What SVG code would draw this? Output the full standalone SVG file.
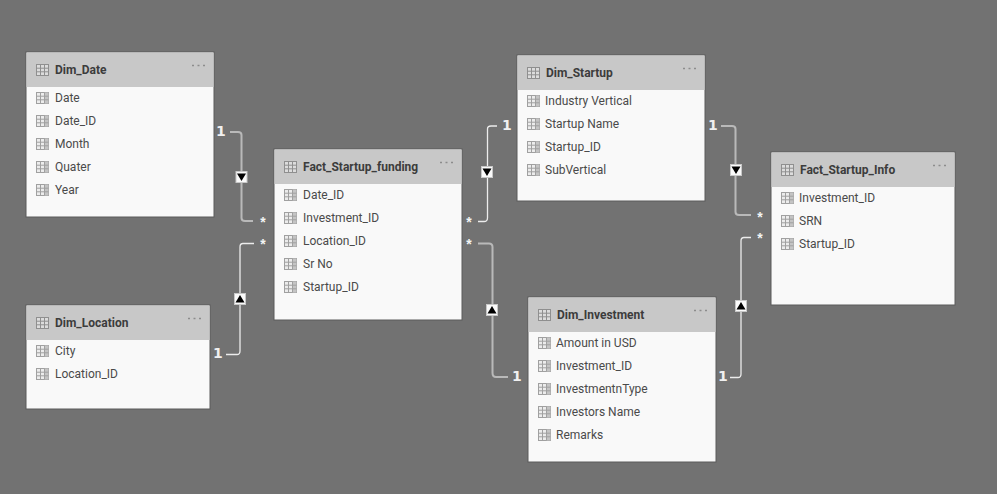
<svg xmlns="http://www.w3.org/2000/svg" width="997" height="494" viewBox="0 0 997 494">
<style>
text{font-family:Roboto,"Open Sans","Liberation Sans",sans-serif}
.body{fill:#f9f9f9;stroke:#5a5a5a;stroke-width:1}
.head{fill:#c8c8c8}
.title{font-size:12px;font-weight:700;fill:#3c3c3c}
.field{font-size:12px;fill:#4a4a4a}
.dots{fill:none;stroke:#8c8c8c;stroke-width:1.5;stroke-dasharray:2 3.5}
.wide{fill:none;stroke:#b9b9b9;stroke-width:2}
.thin{fill:none;stroke:#ececec;stroke-width:1.3}
.one{font-size:14px;font-weight:700;fill:#f0f0f0;font-family:"DejaVu Sans",sans-serif}
.star{font-size:14px;font-weight:700;fill:#f4f4f4;text-anchor:middle;font-family:"Liberation Sans",sans-serif}
.abox{fill:#fafafa;stroke:#c8c8c8;stroke-width:1}
</style>
<defs>
<g id="ticon"><rect width="12" height="11" fill="#dcdcdc" stroke="#8f8f8f"/><path d="M0 3.700H12M0 7.300H12M4 0V11M8 0V11" stroke="#8f8f8f" fill="none"/></g>
<g id="ficon"><rect width="12" height="11" fill="#ececec" stroke="#a0a0a0"/><rect x="8" y="0" width="4" height="11" fill="#c4c4c4"/><path d="M0 3.700H12M0 7.300H12M4 0V11M8 0V11" stroke="#a0a0a0" fill="none"/></g>
<g id="down"><rect x="-5.500" y="-5.500" width="11" height="11" class="abox"/><path d="M-4.500 -3.500H4.500L0 4Z" fill="#000"/></g>
<g id="up"><rect x="-5.500" y="-5.500" width="11" height="11" class="abox"/><path d="M-4.500 3.500H4.500L0 -4Z" fill="#000"/></g>
</defs>
<rect width="997" height="494" fill="#727272"/>
<g id="connectors">
<path class="wide" d="M230 132H238Q241.500 132 241.500 135V218Q241.500 221 245 221H253"/>
<path class="thin" d="M254 243.500H243Q240 243.500 240 247V351Q240 354.500 237 354.500H226"/>
<path class="thin" d="M478 221.500H484Q487.500 221.500 487.500 218V129Q487.500 126 491 126H497"/>
<path class="wide" d="M478 243.500H489Q492.500 243.500 492.500 247V373Q492.500 377 496 377H508"/>
<path class="wide" d="M721 126H732Q735.500 126 735.500 129V212Q735.500 215 739 215H751"/>
<path class="thin" d="M751 237.500H744Q741 237.500 741 241V374Q741 377.500 738 377.500H730"/>
<use href="#down" x="241.500" y="177"/>
<use href="#up" x="240" y="299"/>
<use href="#down" x="487" y="172"/>
<use href="#up" x="492" y="310"/>
<use href="#down" x="736" y="170"/>
<use href="#up" x="741" y="306"/>
<text class="one" x="216" y="136">1</text>
<text class="star" x="263" y="227">*</text>
<text class="star" x="263" y="249">*</text>
<text class="one" x="213" y="358">1</text>
<text class="star" x="469" y="227">*</text>
<text class="star" x="469" y="249">*</text>
<text class="one" x="502" y="130">1</text>
<text class="one" x="512" y="381">1</text>
<text class="one" x="708" y="130">1</text>
<text class="star" x="760" y="222">*</text>
<text class="star" x="760" y="243">*</text>
<text class="one" x="718" y="381">1</text>
</g>
<g id="dim_date">
<rect class="body" x="26" y="52" width="188" height="165"/><rect class="head" x="26.500" y="52.500" width="187" height="34.500"/>
<use href="#ticon" x="36.500" y="64.500"/><text class="title" x="55" y="74">Dim_Date</text><path class="dots" d="M192 65.500H207"/>
<use href="#ficon" x="36.500" y="92.500"/><text class="field" x="55" y="102">Date</text>
<use href="#ficon" x="36.500" y="115.500"/><text class="field" x="55" y="125">Date_ID</text>
<use href="#ficon" x="36.500" y="138.500"/><text class="field" x="55" y="148">Month</text>
<use href="#ficon" x="36.500" y="161.500"/><text class="field" x="55" y="171">Quater</text>
<use href="#ficon" x="36.500" y="184.500"/><text class="field" x="55" y="194">Year</text>
</g>
<g id="fact_startup_funding">
<rect class="body" x="274" y="149" width="188" height="171"/><rect class="head" x="274.500" y="149.500" width="187" height="34.500"/>
<use href="#ticon" x="284.500" y="161.500"/><text class="title" x="303" y="171">Fact_Startup_funding</text><path class="dots" d="M440 162.500H455"/>
<use href="#ficon" x="284.500" y="189.500"/><text class="field" x="303" y="199">Date_ID</text>
<use href="#ficon" x="284.500" y="212.500"/><text class="field" x="303" y="222">Investment_ID</text>
<use href="#ficon" x="284.500" y="235.500"/><text class="field" x="303" y="245">Location_ID</text>
<use href="#ficon" x="284.500" y="258.500"/><text class="field" x="303" y="268">Sr No</text>
<use href="#ficon" x="284.500" y="281.500"/><text class="field" x="303" y="291">Startup_ID</text>
</g>
<g id="dim_location">
<rect class="body" x="26" y="305" width="184" height="104"/><rect class="head" x="26.500" y="305.500" width="183" height="34.500"/>
<use href="#ticon" x="36.500" y="317.500"/><text class="title" x="55" y="327">Dim_Location</text><path class="dots" d="M188 318.500H203"/>
<use href="#ficon" x="36.500" y="345.500"/><text class="field" x="55" y="355">City</text>
<use href="#ficon" x="36.500" y="368.500"/><text class="field" x="55" y="378">Location_ID</text>
</g>
<g id="dim_startup">
<rect class="body" x="517" y="55" width="188" height="146"/><rect class="head" x="517.500" y="55.500" width="187" height="34.500"/>
<use href="#ticon" x="527.500" y="67.500"/><text class="title" x="546" y="77">Dim_Startup</text><path class="dots" d="M683 68.500H698"/>
<use href="#ficon" x="527.500" y="95.500"/><text class="field" x="545" y="105">Industry Vertical</text>
<use href="#ficon" x="527.500" y="118.500"/><text class="field" x="545" y="128">Startup Name</text>
<use href="#ficon" x="527.500" y="141.500"/><text class="field" x="545" y="151">Startup_ID</text>
<use href="#ficon" x="527.500" y="164.500"/><text class="field" x="545" y="174">SubVertical</text>
</g>
<g id="dim_investment">
<rect class="body" x="528" y="297" width="188" height="165"/><rect class="head" x="528.500" y="297.500" width="187" height="34.500"/>
<use href="#ticon" x="538.500" y="309.500"/><text class="title" x="557" y="319">Dim_Investment</text><path class="dots" d="M694 310.500H709"/>
<use href="#ficon" x="538.500" y="337.500"/><text class="field" x="556" y="347">Amount in USD</text>
<use href="#ficon" x="538.500" y="360.500"/><text class="field" x="556" y="370">Investment_ID</text>
<use href="#ficon" x="538.500" y="383.500"/><text class="field" x="556" y="393">InvestmentnType</text>
<use href="#ficon" x="538.500" y="406.500"/><text class="field" x="556" y="416">Investors Name</text>
<use href="#ficon" x="538.500" y="429.500"/><text class="field" x="556" y="439">Remarks</text>
</g>
<g id="fact_startup_info">
<rect class="body" x="771" y="152" width="184" height="153"/><rect class="head" x="771.500" y="152.500" width="183" height="34.500"/>
<use href="#ticon" x="781.500" y="164.500"/><text class="title" x="800" y="174">Fact_Startup_Info</text><path class="dots" d="M933 165.500H948"/>
<use href="#ficon" x="781.500" y="192.500"/><text class="field" x="799" y="202">Investment_ID</text>
<use href="#ficon" x="781.500" y="215.500"/><text class="field" x="799" y="225">SRN</text>
<use href="#ficon" x="781.500" y="238.500"/><text class="field" x="799" y="248">Startup_ID</text>
</g>
</svg>
